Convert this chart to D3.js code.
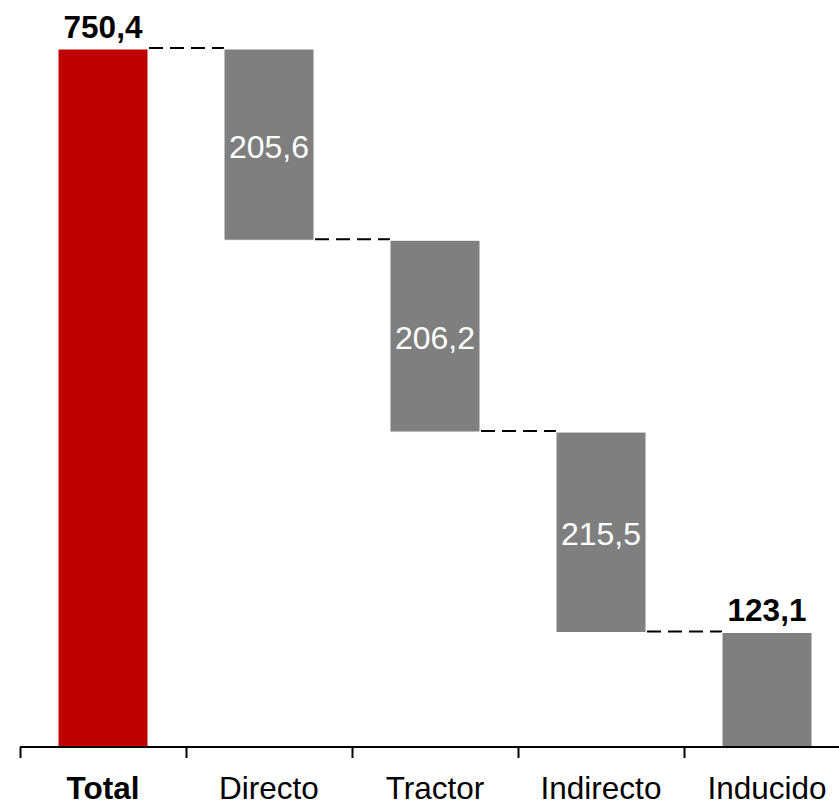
<!DOCTYPE html>
<html lang="en">
<head>
<meta charset="UTF-8">
<title>Waterfall</title>
<script src="https://cdn.jsdelivr.net/npm/d3@7"></script>
<style>
    body { margin: 0; background: #fff; }
    text { font-family: "Liberation Sans", Arial, Helvetica, sans-serif; }
    .axis path, .axis line { stroke: #000; stroke-width: 2; }
    .axis text { font-size: 31.5px; fill: #000; }
</style>
</head>
<body>
<svg width="839" height="803"></svg>
<script>
    // data
    var categories = ["Total", "Directo", "Tractor", "Indirecto", "Inducido"];
    var values = [750.4, 205.6, 206.2, 215.5, 123.1];
    var labels = ["750,4", "205,6", "206,2", "215,5", "123,1"];
    var kinds = ["total", "step", "step", "step", "end"];

    var svg = d3.select("svg");
    var baseY = 747, topY = 49;

    var x = d3.scaleBand()
        .domain(categories)
        .range([20, 850])
        .paddingInner(76 / 166)
        .paddingOuter(38 / 166);

    var y = d3.scaleLinear()
        .domain([0, values[0]])
        .range([baseY, topY]);

    // build waterfall segments
    var running = values[0];
    var bars = categories.map(function(c, i) {
        var b;
        if (i === 0) {
            b = { cat: c, lo: 0, hi: values[0] };
        } else if (i === categories.length - 1) {
            b = { cat: c, lo: 0, hi: values[i] };
        } else {
            b = { cat: c, lo: running - values[i], hi: running };
            running -= values[i];
        }
        b.label = labels[i];
        b.kind = kinds[i];
        return b;
    });

    // connectors
    var conn = [];
    for (var i = 0; i < bars.length - 1; i++) {
        var level = bars[i + 1].hi;
        conn.push({ x1: x(bars[i].cat) + x.bandwidth(), x2: x(bars[i + 1].cat), v: level });
    }
    svg.selectAll(".conn")
        .data(conn)
        .enter().append("line")
        .attr("class", "conn")
        .attr("x1", function(d) { return d.x1 + 1; })
        .attr("x2", function(d) { return d.x2; })
        .attr("y1", function(d) { return y(d.v) - 1; })
        .attr("y2", function(d) { return y(d.v) - 1; })
        .attr("stroke", "#000")
        .attr("stroke-width", 2)
        .attr("stroke-dasharray", "14,7");

    svg.selectAll(".bar")
        .data(bars)
        .enter().append("rect")
        .attr("class", "bar")
        .attr("x", function(d) { return x(d.cat); })
        .attr("width", x.bandwidth())
        .attr("y", function(d) { return y(d.hi); })
        .attr("height", function(d) { return y(d.lo) - y(d.hi); })
        .attr("fill", function(d) { return d.kind === "total" ? "#C00000" : "#7F7F7F"; })
        .attr("stroke", "#fff")
        .attr("stroke-width", 1);

    // labels above total/end bars
    svg.selectAll(".toplabel")
        .data(bars.filter(function(d) { return d.kind !== "step"; }))
        .enter().append("text")
        .attr("class", "toplabel")
        .attr("x", function(d) { return x(d.cat) + x.bandwidth() / 2; })
        .attr("y", function(d) { return y(d.hi) - 11; })
        .attr("text-anchor", "middle")
        .style("font-size", "31.5px")
        .style("font-weight", "bold")
        .text(function(d) { return d.label; });

    // labels inside step bars
    svg.selectAll(".inlabel")
        .data(bars.filter(function(d) { return d.kind === "step"; }))
        .enter().append("text")
        .attr("class", "inlabel")
        .attr("x", function(d) { return x(d.cat) + x.bandwidth() / 2; })
        .attr("y", function(d) { return (y(d.hi) + y(d.lo)) / 2 + 13; })
        .attr("text-anchor", "middle")
        .attr("fill", "#fff")
        .style("font-size", "32px")
        .text(function(d) { return d.label; });

    // axis with ticks at band boundaries
    var axisG = svg.append("g").attr("class", "axis");
    axisG.append("line")
        .attr("x1", 20).attr("x2", 850)
        .attr("y1", baseY).attr("y2", baseY);
    axisG.selectAll(".tick")
        .data(categories)
        .enter().append("line")
        .attr("x1", function(d) { return x(d) - x.step() * x.paddingOuter() + 0.5; })
        .attr("x2", function(d) { return x(d) - x.step() * x.paddingOuter() + 0.5; })
        .attr("y1", baseY).attr("y2", baseY + 11);
    axisG.selectAll(".lab")
        .data(categories)
        .enter().append("text")
        .attr("x", function(d) { return x(d) + x.bandwidth() / 2; })
        .attr("y", 799)
        .attr("text-anchor", "middle")
        .style("font-weight", function(d, i) { return i === 0 ? "bold" : "normal"; })
        .text(function(d) { return d; });
</script>
</body>
</html>
